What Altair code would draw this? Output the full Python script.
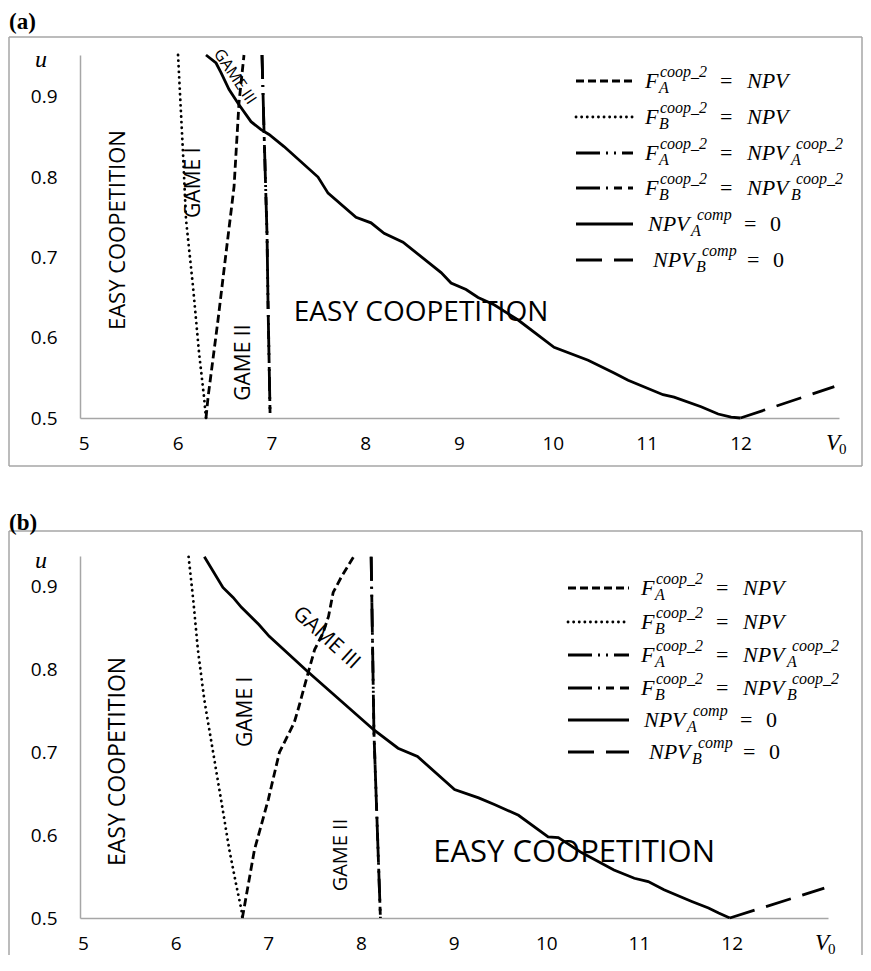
import altair as alt
import pandas as pd

# ---------------- panel (a) data ----------------
a_FA_NPV_x = [6.303, 6.325, 6.431, 6.517, 6.602, 6.655, 6.708]
a_FA_NPV_u = [0.500, 0.526, 0.622, 0.706, 0.788, 0.893, 0.952]
a_FB_NPV_x = [6.005, 6.058, 6.090, 6.165, 6.229, 6.282, 6.303]
a_FB_NPV_u = [0.952, 0.830, 0.747, 0.663, 0.581, 0.526, 0.500]
a_FA_NPVA_x = [6.900, 6.922, 6.954, 6.964, 6.986]
a_FA_NPVA_u = [0.952, 0.855, 0.726, 0.643, 0.505]
a_FB_NPVB_x = [6.900, 6.922, 6.954, 6.964, 6.986]
a_FB_NPVB_u = [0.952, 0.855, 0.726, 0.643, 0.505]
a_NPVA_x = [6.303, 6.410, 6.463, 6.549, 6.655, 6.783, 6.890, 6.975, 7.135, 7.497,
            7.604, 7.902, 8.062, 8.201, 8.403, 8.809, 8.915, 9.075, 9.203, 9.374,
            9.630, 10.013, 10.376, 10.653, 10.802, 11.175, 11.292, 11.580, 11.762,
            11.900, 12.000]
a_NPVA_u = [0.952, 0.942, 0.930, 0.909, 0.890, 0.869, 0.859, 0.853, 0.838, 0.800,
            0.780, 0.750, 0.743, 0.730, 0.719, 0.681, 0.668, 0.660, 0.650, 0.641,
            0.622, 0.588, 0.572, 0.556, 0.547, 0.529, 0.526, 0.514, 0.505,
            0.501, 0.500]
a_NPVB_x = [12.0, 13.0]
a_NPVB_u = [0.500, 0.539]

# ---------------- panel (b) data ----------------
b_FA_NPV_x = [6.72, 6.85, 7.00, 7.12, 7.28, 7.33, 7.43, 7.50, 7.59, 7.65, 7.70, 7.79, 7.92]
b_FA_NPV_u = [0.500, 0.582, 0.643, 0.700, 0.736, 0.755, 0.796, 0.824, 0.844, 0.864, 0.893, 0.912, 0.936]
b_FB_NPV_x = [6.14, 6.19, 6.24, 6.31, 6.40, 6.49, 6.58, 6.65, 6.71, 6.72]
b_FB_NPV_u = [0.936, 0.884, 0.824, 0.763, 0.703, 0.643, 0.582, 0.542, 0.510, 0.500]
b_FA_NPVA_x = [8.11, 8.14, 8.21]
b_FA_NPVA_u = [0.936, 0.724, 0.500]
b_FB_NPVB_x = [8.11, 8.14, 8.21]
b_FB_NPVB_u = [0.936, 0.724, 0.500]
b_NPVA_x = [6.31, 6.51, 6.62, 6.71, 6.90, 7.01, 7.43, 8.14, 8.40, 8.61, 9.01, 9.27, 9.44,
            9.70, 10.02, 10.13, 10.38, 10.73, 10.95, 11.10, 11.27, 11.57, 11.75, 11.86, 11.98]
b_NPVA_u = [0.936, 0.899, 0.887, 0.875, 0.854, 0.840, 0.797, 0.727, 0.705, 0.695, 0.655, 0.645, 0.637,
            0.624, 0.598, 0.597, 0.579, 0.558, 0.548, 0.544, 0.534, 0.520, 0.512, 0.506, 0.500]
b_NPVB_x = [11.98, 13.0]
b_NPVB_u = [0.500, 0.536]

x_ticks = [5, 6, 7, 8, 9, 10, 11, 12]
u_ticks = [0.5, 0.6, 0.7, 0.8, 0.9]

# annotation texts and data positions
a_notes = ["EASY COOPETITION", "GAME I", "GAME II", "GAME III", "EASY COOPETITION"]
a_notes_x = [5.365, 6.175, 6.708, 6.612, 8.595]
a_notes_u = [0.734, 0.793, 0.569, 0.925, 0.631]
b_notes = ["EASY COOPETITION", "GAME I", "GAME II", "GAME III", "EASY COOPETITION"]
b_notes_x = [5.378, 6.76, 7.787, 7.625, 10.30]
b_notes_u = [0.689, 0.749, 0.576, 0.838, 0.579]

SERIES = ["FA_NPV", "FB_NPV", "FA_NPVA", "FB_NPVB", "NPVA", "NPVB"]
STYLE = {
    "FA_NPV": dict(strokeDash=[8, 4], strokeWidth=2.8),
    "FB_NPV": dict(strokeDash=[0.1, 5.5], strokeCap="round", strokeWidth=2.8),
    "FA_NPVA": dict(strokeDash=[24, 6, 2, 6, 2, 6], strokeWidth=2.8),
    "FB_NPVB": dict(strokeDash=[24, 6, 2, 6, 8, 6], strokeWidth=2.8),
    "NPVA": dict(strokeWidth=2.8),
    "NPVB": dict(strokeDash=[26, 12], strokeWidth=2.8),
}

# legend label pieces: (text, dx, dy, size, italic)
SUB, SUP = 7, -9
LEG = [
    [("F", 0, 0, "m", 1), ("A", 14, SUB, "s", 1), ("coop_2", 15, SUP, "s", 1), ("=", 75, 0, "m", 0), ("NPV", 102, 0, "m", 1)],
    [("F", 0, 0, "m", 1), ("B", 14, SUB, "s", 1), ("coop_2", 15, SUP, "s", 1), ("=", 75, 0, "m", 0), ("NPV", 102, 0, "m", 1)],
    [("F", 0, 0, "m", 1), ("A", 14, SUB, "s", 1), ("coop_2", 15, SUP, "s", 1), ("=", 75, 0, "m", 0), ("NPV", 102, 0, "m", 1),
     ("A", 146, SUB, "s", 1), ("coop_2", 151, SUP, "s", 1)],
    [("F", 0, 0, "m", 1), ("B", 14, SUB, "s", 1), ("coop_2", 15, SUP, "s", 1), ("=", 75, 0, "m", 0), ("NPV", 102, 0, "m", 1),
     ("B", 146, SUB, "s", 1), ("coop_2", 151, SUP, "s", 1)],
    [("NPV", 3, 0, "m", 1), ("A", 46, SUB, "s", 1), ("comp", 52, SUP, "s", 1), ("=", 99, 0, "m", 0), ("0", 125, 0, "m", 0)],
    [("NPV", 8, 0, "m", 1), ("B", 51, SUB, "s", 1), ("comp", 57, SUP, "s", 1), ("=", 102, 0, "m", 0), ("0", 128, 0, "m", 0)],
]

ONE = pd.DataFrame({"k": [0]})
FRAME = "#a6a6a6"


def panel(tag, data, notes, notes_x, notes_u, note_style, xdom, ydom, w, h,
          leg_sx, leg_lx, leg_rows, frame_top, frame_bottom, bottom_edge):
    X = alt.X("x:Q", scale=alt.Scale(domain=xdom, nice=False, zero=False),
              axis=alt.Axis(values=x_ticks, format="d", title=None))
    Y = alt.Y("u:Q", scale=alt.Scale(domain=ydom, nice=False, zero=False),
              axis=alt.Axis(values=u_ticks, format=".1f", title=None))
    layers = []
    # frame
    fr = [(-71, 782, frame_top, frame_top), (-71, -71, frame_top, frame_bottom),
          (782, 782, frame_top, frame_bottom)]
    if bottom_edge:
        fr.append((-71, 782, frame_bottom, frame_bottom))
    for x1, x2, y1, y2 in fr:
        layers.append(alt.Chart(ONE).mark_rule(color=FRAME, strokeWidth=1.5).encode(
            x=alt.value(x1), x2=alt.value(x2), y=alt.value(y1), y2=alt.value(y2)))
    # series
    for name in SERIES:
        xs, us = data[name]
        df = pd.DataFrame({"x": xs, "u": us, "i": list(range(len(xs)))})
        layers.append(alt.Chart(df).mark_line(color="black", **STYLE[name]).encode(
            x=X, y=Y, order="i:Q"))
    # annotations
    for t, ax, au, (fs, ang) in zip(notes, notes_x, notes_u, note_style):
        kw = dict(fontSize=fs, font="Open Sans", align="center", baseline="middle", color="black")
        if ang:
            kw["angle"] = ang
        df = pd.DataFrame({"x": [ax], "u": [au], "t": [t]})
        layers.append(alt.Chart(df).mark_text(**kw).encode(x=X, y=Y, text="t:N"))
    # legend
    for r, name in enumerate(SERIES):
        ry = leg_rows[r]
        layers.append(alt.Chart(ONE).mark_rule(color="black", **STYLE[name]).encode(
            x=alt.value(leg_sx[0]), x2=alt.value(leg_sx[1]), y=alt.value(ry)))
        for t, dx, dy, sz, it in LEG[r]:
            kw = dict(text=t, font="Liberation Serif", fontSize=22 if sz == "m" else 16,
                      align="left", baseline="middle", color="black")
            if it:
                kw["fontStyle"] = "italic"
            layers.append(alt.Chart(ONE).mark_text(**kw).encode(
                x=alt.value(leg_lx + dx), y=alt.value(ry + dy)))
    # axis titles and panel tag
    layers.append(alt.Chart(ONE).mark_text(text="u", font="Liberation Serif", fontStyle="italic",
                                           fontSize=24, align="center", baseline="middle").encode(
        x=alt.value(-39), y=alt.value(5)))
    layers.append(alt.Chart(ONE).mark_text(text="V", font="Liberation Serif", fontStyle="italic",
                                           fontSize=23, align="center", baseline="middle").encode(
        x=alt.value(w - 6), y=alt.value(h + 25)))
    layers.append(alt.Chart(ONE).mark_text(text="0", font="Liberation Serif",
                                           fontSize=15, align="left", baseline="middle").encode(
        x=alt.value(w), y=alt.value(h + 31)))
    layers.append(alt.Chart(ONE).mark_text(text=tag, font="Liberation Serif", fontWeight="bold",
                                           fontSize=23, align="left", baseline="top").encode(
        x=alt.value(-71), y=alt.value(-44)))
    return alt.layer(*layers).properties(width=w, height=h)


data_a = {
    "FA_NPV": (a_FA_NPV_x, a_FA_NPV_u), "FB_NPV": (a_FB_NPV_x, a_FB_NPV_u),
    "FA_NPVA": (a_FA_NPVA_x, a_FA_NPVA_u), "FB_NPVB": (a_FB_NPVB_x, a_FB_NPVB_u),
    "NPVA": (a_NPVA_x, a_NPVA_u), "NPVB": (a_NPVB_x, a_NPVB_u),
}
data_b = {
    "FA_NPV": (b_FA_NPV_x, b_FA_NPV_u), "FB_NPV": (b_FB_NPV_x, b_FB_NPV_u),
    "FA_NPVA": (b_FA_NPVA_x, b_FA_NPVA_u), "FB_NPVB": (b_FB_NPVB_x, b_FB_NPVB_u),
    "NPVA": (b_NPVA_x, b_NPVA_u), "NPVB": (b_NPVB_x, b_NPVB_u),
}

pa = panel("(a)", data_a, a_notes, a_notes_x, a_notes_u,
           [(22, 270), (21, 270), (21, 270), (16, 56), (28, 0)],
           [4.96, 13.05], [0.5, 0.952], 759, 363,
           (496, 553), 565, [26, 62, 98, 133, 169, 205], -18, 411, True)
pb = panel("(b)", data_b, b_notes, b_notes_x, b_notes_u,
           [(23, 270), (21, 270), (20, 270), (21, 42), (31, 0)],
           [4.968, 13.04], [0.5, 0.937], 748, 362,
           (488, 549), 561, [32, 66, 99, 132, 164, 196], -25, 399, False)

chart = alt.vconcat(pa, pb, spacing=45).properties(
    padding={"top": 3, "left": 0, "right": 0, "bottom": 0}
).configure_view(
    stroke=None
).configure_axis(
    grid=False, ticks=False, tickSize=0, domainColor=FRAME, domainWidth=1.5,
    labelFont="Open Sans", labelFontSize=19, labelColor="black", labelFlush=False,
    labelOverlap=False
).configure_axisX(labelPadding=16).configure_axisY(labelPadding=23)

chart.save("out.html", embed_options={"renderer": "svg", "actions": False})
